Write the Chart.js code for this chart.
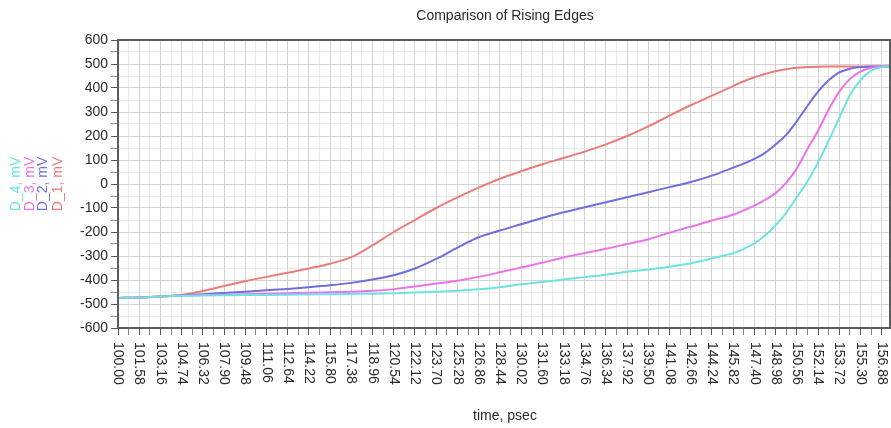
<!DOCTYPE html>
<html lang="en">
<head>
  <meta charset="UTF-8">
  <title>Comparison of Rising Edges</title>
  <script src="https://cdn.jsdelivr.net/npm/chart.js"></script>
  <style>
    html, body { margin: 0; padding: 0; background: #fff; }
    #wrap { width: 891px; height: 428px; }
  </style>
</head>
<body>

<div id="wrap"><canvas id="edges" width="891" height="428"></canvas></div>

<script>
  // time axis (psec) and the four traces (mV)
  const timePs = [100.00, 101.58, 103.16, 104.74, 106.32, 107.90, 109.48, 111.06, 112.64, 114.22,
                  115.80, 117.38, 118.96, 120.54, 122.12, 123.70, 125.28, 126.86, 128.44, 130.02,
                  131.60, 133.18, 134.76, 136.34, 137.92, 139.50, 141.08, 142.66, 144.24, 145.82,
                  146.61, 147.40, 148.19, 148.98, 149.77, 150.56, 151.35, 152.14, 152.93, 153.72,
                  154.51, 155.30, 156.09, 156.88, 157.50];

  const d1 = [-475, -473, -469, -462, -446, -425, -405, -387, -370, -352,
              -332, -305, -255, -200, -150, -100, -56, -15, 22, 53,
              82, 108, 135, 165, 200, 240, 285, 328, 368, 408,
              428, 445, 458, 470, 478, 484, 487, 489, 490, 490,
              490, 490, 490, 490, 490];

  const d2 = [-475, -473, -469, -464, -459, -454, -449, -443, -437, -430,
              -422, -412, -398, -380, -352, -312, -265, -222, -194, -168,
              -142, -118, -97, -76, -55, -34, -13, 8, 35, 68,
              85, 105, 130, 165, 205, 262, 325, 385, 432, 465,
              480, 487, 490, 490, 490];

  const d3 = [-475, -473, -469, -465, -463, -461, -459, -457, -455, -453,
              -451, -449, -445, -438, -427, -415, -403, -387, -368, -348,
              -328, -306, -288, -270, -250, -230, -203, -178, -152, -128,
              -110, -90, -66, -38, 5, 65, 146, 222, 310, 385,
              437, 468, 484, 490, 490];

  const d4 = [-475, -473, -469, -466, -465, -464, -463, -462, -461, -460,
              -459, -458, -457, -455, -452, -449, -445, -439, -430, -418,
              -408, -398, -388, -378, -366, -356, -345, -330, -310, -288,
              -270, -248, -215, -172, -120, -55, 10, 90, 180, 275,
              370, 433, 472, 487, 490];

  const seriesNames = ['D_1, mV', 'D_2, mV', 'D_3, mV', 'D_4, mV'];
  const seriesColors = ['#ec7c78', '#6e6edc', '#ec72ec', '#6ee2e2'];

  const xTickLabels = ['100.00', '101.58', '103.16', '104.74', '106.32', '107.90', '109.48', '111.06',
                       '112.64', '114.22', '115.80', '117.38', '118.96', '120.54', '122.12', '123.70',
                       '125.28', '126.86', '128.44', '130.02', '131.60', '133.18', '134.76', '136.34',
                       '137.92', '139.50', '141.08', '142.66', '144.24', '145.82', '147.40', '148.98',
                       '150.56', '152.14', '153.72', '155.30', '156.88'];
  const yTickLabels = [600, 500, 400, 300, 200, 100, 0, -100, -200, -300, -400, -500, -600];

  const X_MAX = 157.5;
  const FONT = '"Liberation Sans", Arial, sans-serif';

  // major ticks at the labels, minor ticks halfway between
  const xGridValues = [];
  xTickLabels.forEach(lbl => {
    const v = parseFloat(lbl);
    xGridValues.push(v);
    if (v + 0.79 <= X_MAX) xGridValues.push(+(v + 0.79).toFixed(2));
  });

  const textPlugin = {
    id: 'textPlugin',
    afterDraw(chart) {
      const { ctx, chartArea: a, scales: { x, y } } = chart;
      ctx.save();

      // frame
      ctx.strokeStyle = '#5c5c5c';
      ctx.lineWidth = 2;
      ctx.strokeRect(a.left, a.top, a.right - a.left, a.bottom - a.top);

      ctx.fillStyle = '#2a2a2a';

      // title
      ctx.font = '14px ' + FONT;
      ctx.textAlign = 'center';
      ctx.textBaseline = 'middle';
      ctx.fillText('Comparison of Rising Edges', 505, 16);

      // x axis title
      ctx.fillText('time, psec', 505, 416);

      // y tick labels
      ctx.textAlign = 'right';
      yTickLabels.forEach(v => ctx.fillText(String(v), a.left - 10, y.getPixelForValue(v)));

      // x tick labels, turned clockwise
      ctx.textAlign = 'left';
      xTickLabels.forEach(lbl => {
        ctx.save();
        ctx.translate(x.getPixelForValue(parseFloat(lbl)), a.bottom + 14);
        ctx.rotate(Math.PI / 2);
        ctx.fillText(lbl, 0, 0);
        ctx.restore();
      });

      // legend: vertical names, reading upward, D_4 at far left
      ctx.font = '14px ' + FONT;
      ctx.textAlign = 'center';
      const cols = [58, 43, 30, 16];
      seriesNames.forEach((name, i) => {
        ctx.save();
        ctx.translate(cols[i], 184);
        ctx.rotate(-Math.PI / 2);
        ctx.fillStyle = seriesColors[i];
        ctx.fillText(name, 0, 0);
        ctx.restore();
      });

      ctx.restore();
    }
  };

  const toPoints = arr => timePs.map((t, i) => ({ x: t, y: arr[i] }));
  const series = [d1, d2, d3, d4];

  new Chart(document.getElementById('edges'), {
    type: 'line',
    data: {
      datasets: series.map((arr, i) => ({
        label: seriesNames[i],
        data: toPoints(arr),
        borderColor: seriesColors[i],
        borderWidth: 2,
        pointRadius: 0,
        fill: false,
        cubicInterpolationMode: 'monotone',
        order: 3 - i
      }))
    },
    options: {
      responsive: false,
      animation: false,
      layout: { padding: { left: 111, top: 40, right: 1, bottom: 93 } },
      plugins: { legend: { display: false }, tooltip: { enabled: false }, title: { display: false } },
      scales: {
        x: {
          type: 'linear',
          min: 100,
          max: X_MAX,
          afterBuildTicks: scale => { scale.ticks = xGridValues.map(v => ({ value: v })); },
          ticks: { display: false },
          grid: {
            color: c => (c.index % 2 === 0 ? '#d2d2d2' : '#e9e9e9'),
            tickColor: c => (c.index % 2 === 0 ? '#555' : '#888'),
            tickLength: 7
          },
          border: { color: '#5c5c5c', width: 2 }
        },
        y: {
          min: -600,
          max: 600,
          ticks: { display: false, stepSize: 50 },
          grid: {
            color: c => (c.tick && c.tick.value % 100 === 0 ? '#d2d2d2' : '#e9e9e9'),
            tickColor: c => (c.tick && c.tick.value % 100 === 0 ? '#555' : '#888'),
            tickLength: 7
          },
          border: { color: '#5c5c5c', width: 2 }
        }
      }
    },
    plugins: [textPlugin]
  });
</script>

</body>
</html>
